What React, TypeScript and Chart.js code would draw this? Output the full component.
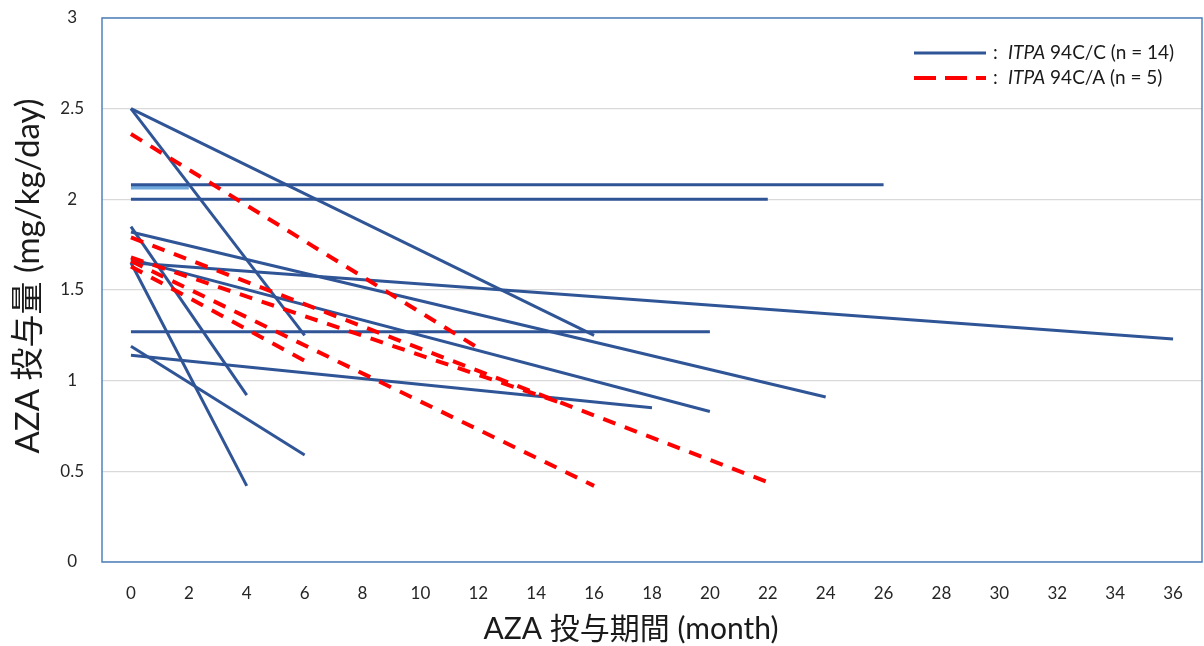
import React, { useEffect, useRef } from "react";
import { Chart, registerables } from "chart.js";

Chart.register(...registerables);

// ---- data ----
// ITPA 94C/C patients: start dose (month 0), end month, end dose
const ccStartDose = [2.5, 2.5, 2.08, 2.0, 1.85, 1.82, 1.65, 1.67, 1.65, 1.27, 1.19, 1.14];
const ccEndMonth = [16, 6, 26, 22, 4, 24, 36, 20, 4, 20, 6, 18];
const ccEndDose = [1.25, 1.25, 2.08, 2.0, 0.92, 0.91, 1.23, 0.83, 0.42, 1.27, 0.59, 0.85];
// short overlapping segment (light blue)
const ccLightStart = [2.065];
const ccLightEndMonth = [2];
const ccLightEnd = [2.065];
// ITPA 94C/A patients
const caStartDose = [2.36, 1.79, 1.68, 1.66, 1.63];
const caEndMonth = [12, 22, 15, 16, 6];
const caEndDose = [1.18, 0.44, 0.87, 0.42, 1.11];

const xTicks = [0, 2, 4, 6, 8, 10, 12, 14, 16, 18, 20, 22, 24, 26, 28, 30, 32, 34, 36];
const yTicks = [0, 0.5, 1, 1.5, 2, 2.5, 3];

const xTitle = "AZA 投与期間 (month)";
const yTitle = "AZA 投与量 (mg/kg/day)";
const legendLabels = [
  { italic: "ITPA", rest: " 94C/C (n = 14)" },
  { italic: "ITPA", rest: " 94C/A (n = 5)" },
];

const BLUE = "#2F5597";
const LIGHT_BLUE = "#6FA8DC";
const RED = "#FF0000";
const FONT = "Lato, 'Noto Sans CJK JP', sans-serif";

const overlayPlugin = {
  id: "overlay",
  afterDraw(chart: any) {
    const { ctx, chartArea } = chart;
    ctx.save();
    // plot area border
    ctx.strokeStyle = "#4F81BD";
    ctx.lineWidth = 1.5;
    ctx.strokeRect(chartArea.left, chartArea.top, chartArea.right - chartArea.left, chartArea.bottom - chartArea.top);

    // axis titles
    ctx.fillStyle = "#1a1a1a";
    ctx.textAlign = "center";
    ctx.textBaseline = "middle";
    ctx.font = `30px ${FONT}`;
    ctx.fillText(xTitle, 631, 629);
    ctx.save();
    ctx.translate(28, 276);
    ctx.rotate(-Math.PI / 2);
    ctx.font = `33px ${FONT}`;
    ctx.fillText(yTitle, 0, 0);
    ctx.restore();

    // legend
    const rows = [
      { y: 53, color: BLUE, dash: [] as number[], width: 3 },
      { y: 78, color: RED, dash: [22, 9], width: 4 },
    ];
    rows.forEach((r, i) => {
      ctx.beginPath();
      ctx.strokeStyle = r.color;
      ctx.lineWidth = r.width;
      ctx.setLineDash(r.dash);
      ctx.moveTo(914, r.y);
      ctx.lineTo(986, r.y);
      ctx.stroke();
      ctx.setLineDash([]);
      ctx.fillStyle = "#1a1a1a";
      ctx.textAlign = "left";
      ctx.textBaseline = "middle";
      ctx.font = `19px ${FONT}`;
      ctx.fillText(":", 993, r.y);
      ctx.font = `italic 19px ${FONT}`;
      ctx.fillText(legendLabels[i].italic, 1008, r.y);
      const w = ctx.measureText(legendLabels[i].italic).width;
      ctx.font = `19px ${FONT}`;
      ctx.fillText(legendLabels[i].rest, 1008 + w, r.y);
    });
    ctx.restore();
  },
};

function seg(x0: number, y0: number, x1: number, y1: number) {
  return [
    { x: x0, y: y0 },
    { x: x1, y: y1 },
  ];
}

export default function App() {
  const ref = useRef<HTMLCanvasElement>(null);
  useEffect(() => {
    const datasets: any[] = [];
    caStartDose.forEach((s, i) => {
      datasets.push({
        data: seg(0, s, caEndMonth[i], caEndDose[i]),
        borderColor: RED,
        borderWidth: 4,
        borderDash: [13, 10],
        order: 0,
      });
    });
    ccStartDose.forEach((s, i) => {
      datasets.push({
        data: seg(0, s, ccEndMonth[i], ccEndDose[i]),
        borderColor: BLUE,
        borderWidth: 3,
        order: 1,
      });
    });
    ccLightStart.forEach((s, i) => {
      datasets.push({
        data: seg(0, s, ccLightEndMonth[i], ccLightEnd[i]),
        borderColor: LIGHT_BLUE,
        borderWidth: 4,
        order: 2,
      });
    });

    const chart = new Chart(ref.current!, {
      type: "line",
      data: { datasets },
      options: {
        animation: false,
        responsive: false,
        elements: { point: { radius: 0 }, line: { tension: 0, borderCapStyle: "butt" } },
        layout: { padding: { top: 18, right: 2, left: 0, bottom: 0 } },
        plugins: { legend: { display: false }, title: { display: false }, tooltip: { enabled: false } },
        scales: {
          x: {
            type: "linear",
            min: -1,
            max: 37,
            grid: { display: false, drawTicks: false },
            border: { display: false },
            afterBuildTicks: (scale: any) => {
              scale.ticks = xTicks.map((v) => ({ value: v }));
            },
            afterFit: (scale: any) => {
              scale.height = 84;
              scale.paddingLeft = 0;
              scale.paddingRight = 0;
            },
            ticks: {
              autoSkip: false,
              maxRotation: 0,
              padding: 21,
              color: "#262626",
              font: { family: FONT, size: 17 },
              callback: (v: any) => String(v),
            },
          },
          y: {
            type: "linear",
            min: 0,
            max: 3,
            grid: { color: "#D9D9D9", lineWidth: 1.2, drawTicks: false },
            border: { display: false },
            afterBuildTicks: (scale: any) => {
              scale.ticks = yTicks.map((v) => ({ value: v }));
            },
            afterFit: (scale: any) => {
              scale.width = 102;
              scale.paddingTop = 0;
              scale.paddingBottom = 0;
            },
            ticks: {
              crossAlign: "center",
              padding: 18,
              color: "#262626",
              font: { family: FONT, size: 17 },
              callback: (v: any) => String(v),
            },
          },
        },
      },
      plugins: [overlayPlugin],
    });
    return () => chart.destroy();
  }, []);

  return (
    <div style={{ position: "absolute", left: 0, top: 0, width: 1204, height: 646, background: "#fff" }}>
      <canvas ref={ref} width={1204} height={646} style={{ display: "block" }} />
    </div>
  );
}
